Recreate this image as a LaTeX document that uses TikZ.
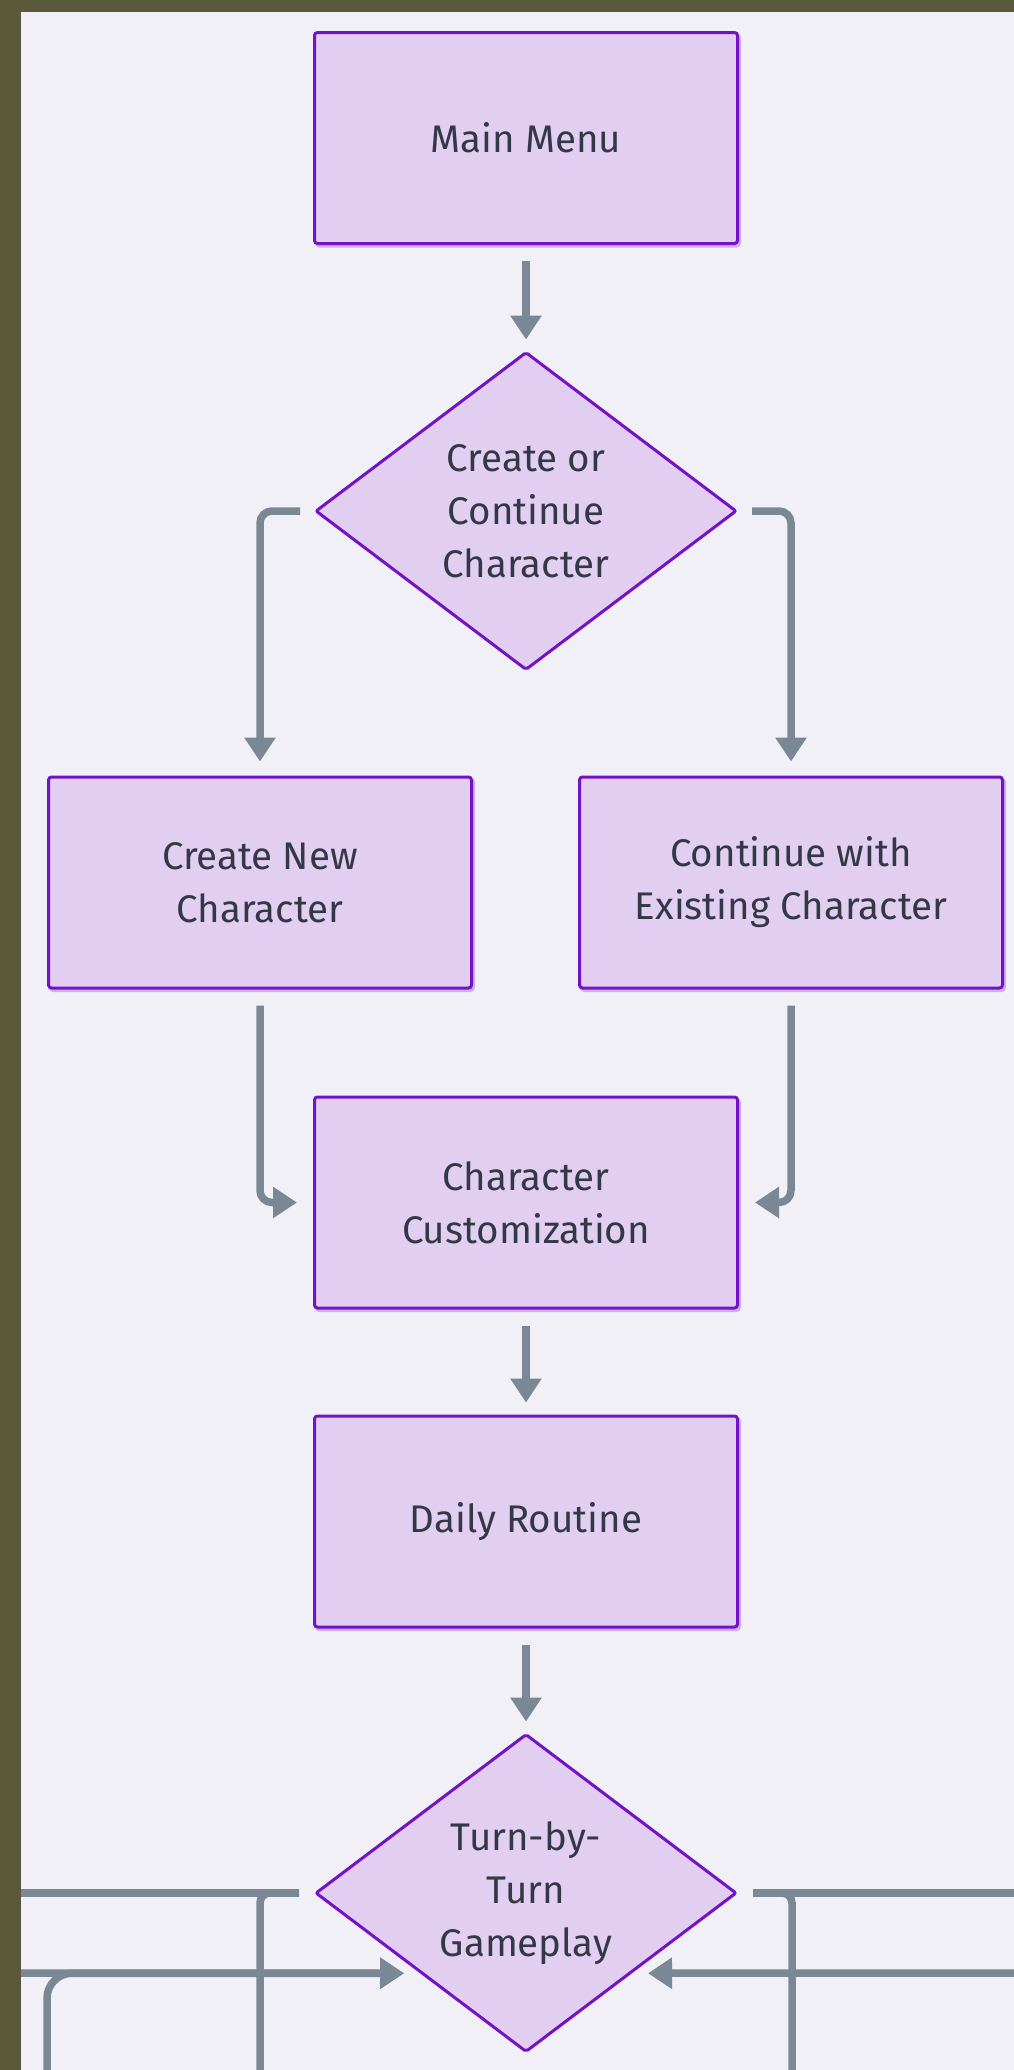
\documentclass[tikz,border=0pt]{standalone}
\usepackage{fontspec}
\setmainfont{Fira Sans}
\usetikzlibrary{arrows.meta,shapes.geometric}
\definecolor{bgc}{HTML}{F0F0F6}
\definecolor{olivec}{HTML}{5A5A3A}
\definecolor{fillc}{HTML}{E1CEF1}
\definecolor{bordc}{HTML}{7412C8}
\definecolor{shadc}{HTML}{CDB0EA}
\definecolor{txtc}{HTML}{333846}
\definecolor{arrc}{HTML}{7A8896}
\begin{document}
\begin{tikzpicture}[x=1pt,y=-1pt,
  box/.style={draw=bordc, fill=fillc, line width=3pt, minimum width=423pt, minimum height=211pt,
    rounded corners=3pt, align=center, text=txtc, font=\fontsize{38.5}{53}\selectfont, inner sep=0pt,
    preaction={draw=shadc, line width=3pt, transform canvas={shift={(2pt,-2.5pt)}}}},
  dia/.style={diamond, draw=bordc, fill=fillc, line width=3pt, minimum width=421pt, minimum height=318pt,
    aspect=1.33, inner sep=0pt, align=center, text=txtc, font=\fontsize{38.5}{53}\selectfont, rounded corners=2pt},
  conn/.style={draw=arrc, line width=7.5pt, rounded corners=12pt},
  arr/.style={conn, -{Triangle[length=24pt,width=30pt]}},
]
\useasboundingbox (0,0) rectangle (1014,2070);
\fill[bgc] (0,0) rectangle (1014,2070);
\clip (0,0) rectangle (1014,2070);

\node[box] (mm) at (526,138) {Main Menu};
\node[dia] (d1) at (526,511) {Create or\\Continue\\Character};
\node[box] (cn) at (260,882.5) {Create New\\Character};
\node[box] (ce) at (791,882.5) {Continue with\\Existing Character};
\node[box] (cc) at (526,1202.5) {Character\\Customization};
\node[box] (dr) at (526,1521.5) {Daily Routine};
\node[dia] (d2) at (526,1893) {Turn-by-\\Turn\\Gameplay};

\draw[arr, shorten <=16pt, shorten >=11pt] (mm.south) -- (d1.north);
\draw[arr, shorten <=14pt, shorten >=14pt] (d1.west) -| (cn.north);
\draw[arr, shorten <=14pt, shorten >=14pt] (d1.east) -| (ce.north);
\draw[arr, shorten <=16pt, shorten >=16pt] (cn.south) |- (cc.west);
\draw[arr, shorten <=16pt, shorten >=16pt] (ce.south) |- (cc.east);
\draw[arr, shorten <=16pt, shorten >=12pt] (cc.south) -- (dr.north);
\draw[arr, shorten <=16pt, shorten >=11pt] (dr.south) -- (d2.north);

\coordinate (lout) at (0,1893);
\coordinate (rout) at (1014,1893);
\coordinate (lin) at (0,1973);
\coordinate (rin) at (1014,1973);
\coordinate (ldown) at (260,2090);
\coordinate (rdown) at (792,2090);
\coordinate (lup) at (47,2090);

\draw[conn, shorten <=15pt] (d2.west) -- (lout);
\draw[conn, rounded corners=10pt, shorten <=15pt] (d2.west) -| (ldown);
\draw[conn, shorten <=15pt] (d2.east) -- (rout);
\draw[conn, rounded corners=10pt, shorten <=15pt] (d2.east) -| (rdown);
\draw[arr, shorten >=16pt] (lin) -- (d2.south west);
\draw[arr, rounded corners=25pt, shorten >=16pt] (lup) |- (d2.south west);
\draw[arr, shorten >=16pt] (rin) -- (d2.south east);

\fill[olivec] (0,0) rectangle (1014,12);
\fill[olivec] (0,0) rectangle (21,2070);
\end{tikzpicture}
\end{document}
